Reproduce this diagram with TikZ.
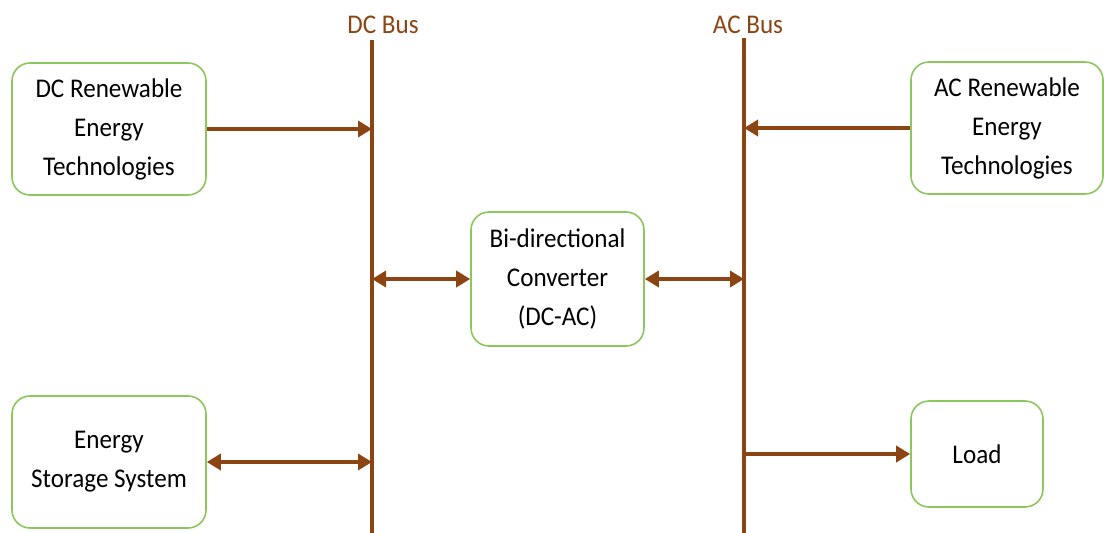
\documentclass[tikz,border=0pt]{standalone}
\usepackage{fontspec}
\setmainfont{Carlito}[FakeStretch=0.93]
\usetikzlibrary{arrows.meta}
\definecolor{busbrown}{RGB}{139,69,19}
\definecolor{boxgreen}{RGB}{140,198,95}
\tikzset{
    unit/.style={draw=boxgreen, line width=1.6pt, rounded corners=18pt, align=center,
        inner sep=0pt, font=\fontsize{27}{39}\selectfont},
    bus/.style={draw=busbrown, line width=4.5pt},
    flow/.style={draw=busbrown, line width=4.5pt, -{Triangle[length=14pt,width=16pt]}},
    twoway/.style={draw=busbrown, line width=4.5pt, {Triangle[length=14pt,width=16pt]}-{Triangle[length=14pt,width=16pt]}},
    buslabel/.style={text=busbrown, font=\fontsize{27}{32}\selectfont, inner sep=0pt}
}

\begin{document}
\begin{tikzpicture}[x=1pt, y=-1pt]
    \useasboundingbox (0,0) rectangle (1104,533);

    % buses
    \coordinate (dctop) at (372,40);
    \coordinate (dcbot) at (372,533);
    \coordinate (actop) at (744,38);
    \coordinate (acbot) at (744,533);
    \draw[bus] (dctop) -- (dcbot);
    \draw[bus] (actop) -- (acbot);
    \node[buslabel] (dclabel) at (383,25) {DC Bus};
    \node[buslabel] (aclabel) at (748,25) {AC Bus};

    % units
    \node[unit, minimum width=194pt, minimum height=132pt] (dcren) at (109,129)
        {DC Renewable\\Energy\\Technologies};
    \node[unit, minimum width=194pt, minimum height=132pt] (storage) at (109,462)
        {Energy\\Storage System};
    \node[unit, minimum width=173pt, minimum height=134pt] (conv) at (557.5,279)
        {Bi-directional\\Converter\\(DC-AC)};
    \node[unit, minimum width=192pt, minimum height=132pt] (acren) at (1007,128)
        {AC Renewable\\Energy\\Technologies};
    \node[unit, minimum width=132pt, minimum height=106pt] (load) at (977,454)
        {Load};

    % connections
    \draw[flow] (dcren.east) -- (dcren.east -| dctop);
    \draw[twoway] (storage.east) -- (storage.east -| dctop);
    \draw[twoway] (conv.west -| dctop) -- (conv.west);
    \draw[twoway] (conv.east) -- (conv.east -| actop);
    \draw[flow] (acren.west) -- (acren.west -| actop);
    \draw[flow] (load.west -| actop) -- (load.west);
\end{tikzpicture}
\end{document}
